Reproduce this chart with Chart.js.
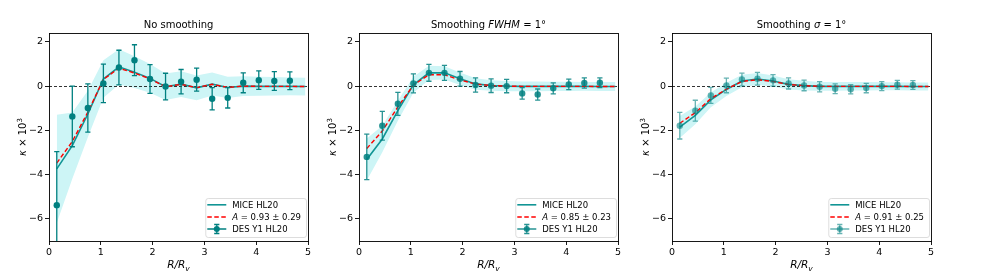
<!DOCTYPE html>
<html>
<head>
<meta charset="utf-8">
<script src="https://cdn.jsdelivr.net/npm/chart.js@4.4.1/dist/chart.umd.min.js"></script>
<style>
html, body { margin: 0; padding: 0; background: #fff; }
#figure { position: relative; width: 981px; height: 276px; overflow: hidden; }
#figure canvas { position: absolute; top: 0; }
</style>
</head>
<body>
<div id="figure">
  <canvas id="panel0" width="315" height="276" style="left:0px"></canvas>
  <canvas id="panel1" width="315" height="276" style="left:310px"></canvas>
  <canvas id="panel2" width="315" height="276" style="left:623px"></canvas>
</div>
<script>
/* global Chart */

// radial bins (R/Rv) of the model curves and of the measured points
const xModel = [0.15, 0.45, 0.75, 1.05, 1.35, 1.65, 1.95, 2.25, 2.55, 2.85, 3.15, 3.45, 3.75, 4.05, 4.35, 4.65, 4.95];
const xData = [0.15, 0.45, 0.75, 1.05, 1.35, 1.65, 1.95, 2.25, 2.55, 2.85, 3.15, 3.45, 3.75, 4.05, 4.35, 4.65];
const xTicks = [0, 1, 2, 3, 4, 5];
const yTicks = [-6, -4, -2, 0, 2];

// no smoothing
const mice1 = [-3.74, -2.69, -1.26, 0.32, 0.87, 0.63, 0.35, -0.03, 0.09, -0.08, 0.09, -0.06, 0.00, -0.01, -0.01, -0.01, -0.02];
const fit1 = [-3.48, -2.50, -1.17, 0.30, 0.81, 0.59, 0.33, -0.03, 0.08, -0.07, 0.08, -0.06, 0.00, -0.01, -0.01, -0.01, -0.02];
const upper1 = [-1.29, -1.19, -0.21, 1.17, 1.67, 1.35, 1.00, 0.57, 0.67, 0.48, 0.61, 0.42, 0.45, 0.42, 0.41, 0.39, 0.38];
const lower1 = [-6.19, -4.19, -2.31, -0.53, 0.07, -0.09, -0.30, -0.63, -0.49, -0.64, -0.43, -0.54, -0.45, -0.44, -0.43, -0.41, -0.42];
const des1 = [-5.38, -1.37, -0.99, 0.12, 0.84, 1.17, 0.32, -0.02, 0.20, 0.29, -0.57, -0.53, 0.15, 0.27, 0.23, 0.24];
const err1 = [2.42, 1.37, 1.09, 0.87, 0.78, 0.70, 0.65, 0.60, 0.55, 0.52, 0.50, 0.46, 0.45, 0.42, 0.42, 0.40];

// smoothing FWHM = 1 deg
const mice2 = [-3.32, -2.39, -1.11, 0.06, 0.60, 0.60, 0.33, 0.10, 0.03, 0.00, -0.01, -0.01, -0.01, -0.01, -0.01, -0.02, -0.02];
const fit2 = [-2.82, -2.03, -0.94, 0.05, 0.51, 0.51, 0.28, 0.09, 0.03, 0.00, -0.01, -0.01, -0.01, -0.01, -0.01, -0.02, -0.02];
const upper2 = [-2.37, -1.79, -0.66, 0.42, 0.92, 0.90, 0.61, 0.36, 0.27, 0.23, 0.21, 0.21, 0.20, 0.20, 0.19, 0.18, 0.18];
const lower2 = [-4.27, -2.99, -1.56, -0.30, 0.28, 0.30, 0.05, -0.16, -0.21, -0.23, -0.23, -0.23, -0.22, -0.22, -0.21, -0.22, -0.22];
const des2 = [-3.20, -1.79, -0.80, 0.12, 0.60, 0.60, 0.33, 0.05, 0.02, 0.00, -0.33, -0.38, -0.10, 0.08, 0.14, 0.15];
const err2 = [1.03, 0.65, 0.52, 0.43, 0.38, 0.34, 0.33, 0.32, 0.31, 0.30, 0.26, 0.25, 0.25, 0.24, 0.23, 0.22];

// smoothing sigma = 1 deg
const mice3 = [-1.85, -1.32, -0.62, -0.15, 0.23, 0.32, 0.23, 0.08, 0.02, -0.01, -0.01, -0.01, -0.01, -0.01, -0.01, -0.02, -0.02];
const fit3 = [-1.68, -1.20, -0.56, -0.14, 0.21, 0.29, 0.21, 0.07, 0.02, -0.01, -0.01, -0.01, -0.01, -0.01, -0.01, -0.02, -0.02];
const upper3 = [-1.35, -0.92, -0.29, 0.15, 0.51, 0.59, 0.48, 0.31, 0.24, 0.19, 0.19, 0.18, 0.18, 0.17, 0.17, 0.16, 0.16];
const lower3 = [-2.35, -1.72, -0.95, -0.45, -0.05, 0.05, -0.02, -0.15, -0.20, -0.21, -0.21, -0.20, -0.20, -0.19, -0.19, -0.20, -0.20];
const des3 = [-1.79, -1.11, -0.42, 0.03, 0.30, 0.33, 0.26, 0.12, 0.03, -0.03, -0.12, -0.14, -0.09, 0.00, 0.06, 0.05];
const err3 = [0.60, 0.47, 0.36, 0.33, 0.29, 0.29, 0.26, 0.25, 0.24, 0.23, 0.22, 0.21, 0.21, 0.20, 0.20, 0.20];

const FONT = "'DejaVu Sans', sans-serif";
const MICE_COLOR = '#119595';
const BAND_COLOR = 'rgb(205, 245, 246)';

const panels = [
    {
        title: [{ t: 'No smoothing' }],
        fitLabel: ' = 0.93 \u00b1 0.29',
        mice: mice1, fit: fit1, upper: upper1, lower: lower1, des: des1, err: err1,
        desColor: 'rgba(0, 128, 128, 1)'
    },
    {
        title: [{ t: 'Smoothing ' }, { t: 'FWHM', it: true }, { t: ' = 1\u00b0' }],
        fitLabel: ' = 0.85 \u00b1 0.23',
        mice: mice2, fit: fit2, upper: upper2, lower: lower2, des: des2, err: err2,
        desColor: 'rgba(0, 128, 128, 0.85)'
    },
    {
        title: [{ t: 'Smoothing ' }, { t: '\u03c3', it: true }, { t: ' = 1\u00b0' }],
        fitLabel: ' = 0.91 \u00b1 0.25',
        mice: mice3, fit: fit3, upper: upper3, lower: lower3, des: des3, err: err3,
        desColor: 'rgba(0, 128, 128, 0.6)'
    }
];

const toPoints = (xs, ys) => xs.map((x, i) => ({ x, y: ys[i] }));

const fontOf = (seg, size) => (seg.it ? 'italic ' : '') + (seg.size || size) + 'px ' + FONT;

const richWidth = (ctx, segs, size) => segs.reduce((w, seg) => {
    ctx.font = fontOf(seg, size);
    return w + ctx.measureText(seg.t).width;
}, 0);

// draws a run of text pieces (italic, sub/superscript) starting at x
const drawRich = (ctx, segs, x, y, size, align) => {
    let cx = align === 'center' ? x - richWidth(ctx, segs, size) / 2 : x;
    ctx.textAlign = 'left';
    segs.forEach((seg) => {
        ctx.font = fontOf(seg, size);
        ctx.fillText(seg.t, cx, y + (seg.dy || 0));
        cx += ctx.measureText(seg.t).width;
    });
};

const drawErrorBars = (chart, panel) => {
    const { ctx, chartArea, scales: { x, y } } = chart;
    ctx.save();
    ctx.beginPath();
    ctx.rect(chartArea.left, chartArea.top, chartArea.right - chartArea.left, chartArea.bottom - chartArea.top);
    ctx.clip();
    ctx.strokeStyle = panel.desColor;
    ctx.lineWidth = 1.3;
    xData.forEach((xv, i) => {
        const px = x.getPixelForValue(xv);
        const top = y.getPixelForValue(panel.des[i] + panel.err[i]);
        const bottom = y.getPixelForValue(panel.des[i] - panel.err[i]);
        ctx.beginPath();
        ctx.moveTo(px, top);
        ctx.lineTo(px, bottom);
        ctx.moveTo(px - 2.6, top);
        ctx.lineTo(px + 2.6, top);
        ctx.moveTo(px - 2.6, bottom);
        ctx.lineTo(px + 2.6, bottom);
        ctx.stroke();
    });
    ctx.restore();
};

const drawZeroLine = (chart) => {
    const { ctx, chartArea, scales: { y } } = chart;
    const py = Math.round(y.getPixelForValue(0)) + 0.5;
    ctx.save();
    ctx.strokeStyle = '#000';
    ctx.lineWidth = 0.8;
    ctx.setLineDash([3, 2]);
    ctx.beginPath();
    ctx.moveTo(chartArea.left, py);
    ctx.lineTo(chartArea.right, py);
    ctx.stroke();
    ctx.restore();
};

const drawLegend = (chart, panel) => {
    const { ctx, chartArea } = chart;
    const size = 8.5;
    const rows = [
        [{ t: 'MICE HL20' }],
        [{ t: 'A', it: true }, { t: panel.fitLabel }],
        [{ t: 'DES Y1 HL20' }]
    ];
    const textW = Math.max(...rows.map((r) => richWidth(ctx, r, size)));
    const w = 2 + 19 + 6 + textW + 5;
    const h = 39;
    const right = chartArea.right - 2;
    const bottom = chartArea.bottom - 4;
    const left = right - w;
    const top = bottom - h;

    ctx.save();
    ctx.beginPath();
    ctx.roundRect(left + 0.5, top + 0.5, w, h, 2.5);
    ctx.fillStyle = 'rgba(255, 255, 255, 0.8)';
    ctx.fill();
    ctx.strokeStyle = '#d4d4d4';
    ctx.lineWidth = 0.8;
    ctx.stroke();

    const rowY = [top + 6.8, top + 19, top + 31];
    const x0 = left + 2;
    const x1 = left + 21;

    ctx.strokeStyle = MICE_COLOR;
    ctx.lineWidth = 1.6;
    ctx.beginPath();
    ctx.moveTo(x0, rowY[0]);
    ctx.lineTo(x1, rowY[0]);
    ctx.stroke();

    ctx.strokeStyle = '#ff0000';
    ctx.lineWidth = 1.4;
    ctx.setLineDash([4.5, 2.5]);
    ctx.beginPath();
    ctx.moveTo(x0, rowY[1]);
    ctx.lineTo(x1, rowY[1]);
    ctx.stroke();
    ctx.setLineDash([]);

    const mx = (x0 + x1) / 2;
    ctx.strokeStyle = panel.desColor;
    ctx.fillStyle = panel.desColor;
    ctx.lineWidth = 1.3;
    ctx.beginPath();
    ctx.moveTo(x0, rowY[2]);
    ctx.lineTo(x1, rowY[2]);
    ctx.moveTo(mx, rowY[2] - 4.5);
    ctx.lineTo(mx, rowY[2] + 4.5);
    ctx.moveTo(mx - 2.6, rowY[2] - 4.5);
    ctx.lineTo(mx + 2.6, rowY[2] - 4.5);
    ctx.moveTo(mx - 2.6, rowY[2] + 4.5);
    ctx.lineTo(mx + 2.6, rowY[2] + 4.5);
    ctx.stroke();
    ctx.beginPath();
    ctx.arc(mx, rowY[2], 3, 0, Math.PI * 2);
    ctx.fill();

    ctx.fillStyle = '#000';
    ctx.textBaseline = 'middle';
    rows.forEach((r, i) => drawRich(ctx, r, left + 27, rowY[i] + 0.5, size, 'left'));
    ctx.restore();
};

const makeDecor = (panel) => ({
    id: 'panelDecor',
    beforeDatasetDraw(chart, args) {
        if (args.index === 4) {
            drawErrorBars(chart, panel);
        }
    },
    afterDatasetDraw(chart, args) {
        if (args.index === 1) {
            drawZeroLine(chart);
        }
    },
    afterDraw(chart) {
        const { ctx, chartArea } = chart;
        const cx = (chartArea.left + chartArea.right) / 2;
        ctx.save();

        // frame
        ctx.strokeStyle = '#000';
        ctx.lineWidth = 0.9;
        ctx.strokeRect(Math.round(chartArea.left) + 0.5, Math.round(chartArea.top) + 0.5,
            Math.round(chartArea.right - chartArea.left), Math.round(chartArea.bottom - chartArea.top));

        ctx.fillStyle = '#000';
        ctx.textBaseline = 'alphabetic';
        drawRich(ctx, panel.title, cx, 28, 10, 'center');

        drawRich(ctx, [{ t: 'R/R', it: true }, { t: 'v', it: true, size: 7.5, dy: 2.5 }], cx, 268, 10.5, 'center');

        ctx.translate(chartArea.left - 23.5, (chartArea.top + chartArea.bottom) / 2);
        ctx.rotate(-Math.PI / 2);
        drawRich(ctx, [{ t: '\u03ba', it: true }, { t: ' \u00d7 10' }, { t: '3', size: 7, dy: -4 }], 0, 0, 10, 'center');
        ctx.restore();

        drawLegend(chart, panel);
    }
});

const minusLabel = (v) => String(v).replace('-', '\u2212');

const buildPanel = (panel, index) => {
    const canvas = document.getElementById('panel' + index);
    return new Chart(canvas, {
        type: 'line',
        data: {
            datasets: [
                { data: toPoints(xModel, panel.upper), borderColor: 'rgba(0,0,0,0)', borderWidth: 0, pointRadius: 0, fill: false, order: 6 },
                { data: toPoints(xModel, panel.lower), borderColor: 'rgba(0,0,0,0)', borderWidth: 0, pointRadius: 0, fill: '-1', backgroundColor: BAND_COLOR, order: 5 },
                { data: toPoints(xModel, panel.mice), borderColor: MICE_COLOR, borderWidth: 1.6, pointRadius: 0, fill: false, order: 3 },
                { data: toPoints(xModel, panel.fit), borderColor: '#ff0000', borderWidth: 1.4, borderDash: [4.5, 2.5], pointRadius: 0, fill: false, order: 2 },
                {
                    data: toPoints(xData, panel.des), showLine: false, fill: false, order: 1,
                    pointRadius: 3.2, pointStyle: 'circle', borderWidth: 0,
                    pointBackgroundColor: panel.desColor, pointBorderColor: panel.desColor
                }
            ]
        },
        options: {
            responsive: false,
            animation: false,
            devicePixelRatio: 1,
            events: [],
            layout: { padding: { top: 33, right: 7, left: 0, bottom: 0 } },
            plugins: { legend: { display: false }, tooltip: { enabled: false }, title: { display: false } },
            scales: {
                x: {
                    type: 'linear',
                    min: 0,
                    max: 5,
                    afterBuildTicks: (scale) => { scale.ticks = xTicks.map((v) => ({ value: v })); },
                    afterFit: (scale) => { scale.height = 35; },
                    border: { display: false },
                    grid: { drawOnChartArea: false, drawTicks: true, tickLength: 4, color: '#000', lineWidth: 0.9 },
                    ticks: { color: '#000', font: { family: FONT, size: 9.5 }, padding: 2, maxRotation: 0, callback: minusLabel }
                },
                y: {
                    type: 'linear',
                    min: -7,
                    max: 2.4,
                    afterBuildTicks: (scale) => { scale.ticks = yTicks.map((v) => ({ value: v })); },
                    afterFit: (scale) => { scale.width = 49; },
                    border: { display: false },
                    grid: { drawOnChartArea: false, drawTicks: true, tickLength: 4, color: '#000', lineWidth: 0.9 },
                    ticks: { color: '#000', font: { family: FONT, size: 9.5 }, padding: 2, callback: minusLabel }
                }
            }
        },
        plugins: [makeDecor(panel)]
    });
};

panels.forEach(buildPanel);
</script>
</body>
</html>
